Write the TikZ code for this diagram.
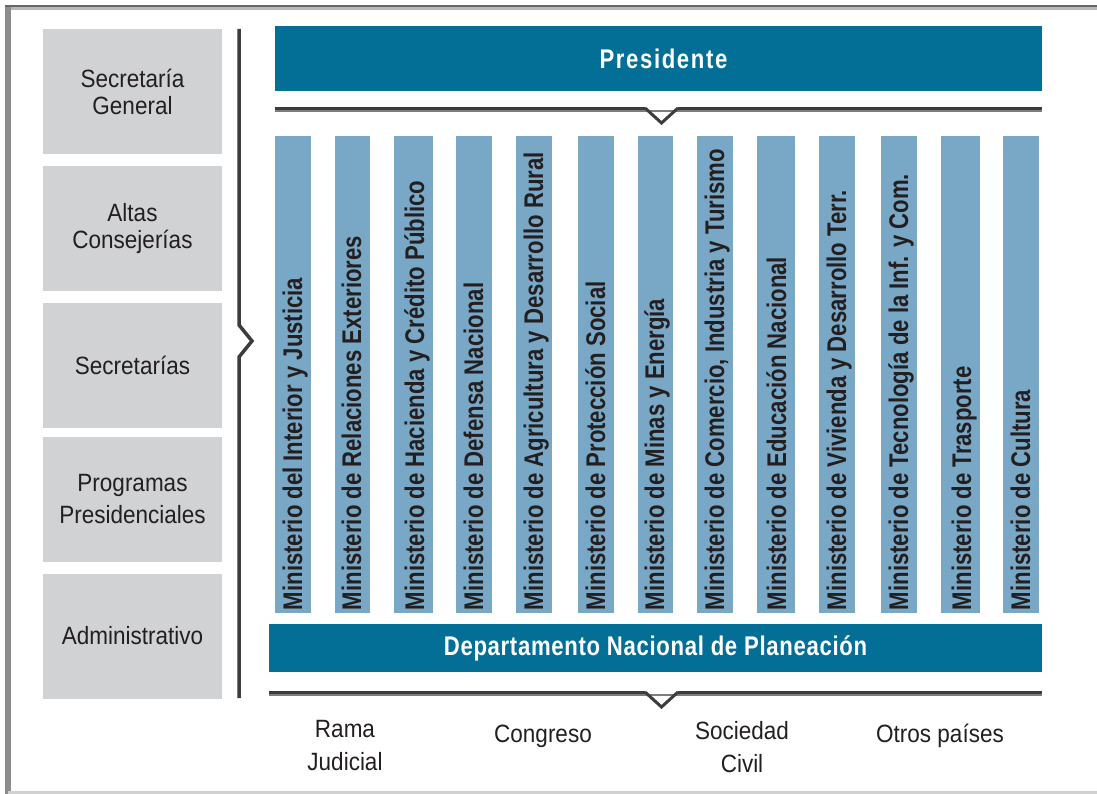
\documentclass[tikz,border=0pt]{standalone}
\usepackage{fontspec}
\usetikzlibrary{calc}
\newfontfamily\regf{Liberation Sans}[FakeStretch=0.9]
\newfontfamily\boldf{Liberation Sans}[FakeStretch=0.82]
\newfontfamily\presf{Liberation Sans}[FakeStretch=0.82,LetterSpace=6]
\newfontfamily\dnpf{Liberation Sans}[FakeStretch=0.82,LetterSpace=2.5]
\definecolor{presblue}{RGB}{3,111,151}
\definecolor{colblue}{RGB}{121,168,199}
\definecolor{boxgrey}{RGB}{209,210,212}
\definecolor{textdark}{RGB}{35,31,32}
\definecolor{linedark}{RGB}{60,60,60}
\definecolor{linegrey}{RGB}{125,125,125}
\tikzset{
  leftbox/.style={fill=boxgrey, draw=none, minimum width=179pt, minimum height=125pt, inner sep=0pt,
    align=center, text=textdark, font=\regf\fontsize{25}{27}\selectfont},
  colbox/.style={fill=colblue, draw=none, minimum height=477pt, inner sep=0pt},
  coltext/.style={rotate=90, anchor=base west, inner sep=0pt, text=textdark,
    font=\boldf\bfseries\fontsize{27}{27}\selectfont},
  bluebar/.style={fill=presblue, draw=none, inner sep=0pt, text=white},
  bartext/.style={inner sep=0pt, text=white},
  hlinetop/.style={line width=2.5pt, draw=linedark},
  hlinebot/.style={line width=2.5pt, draw=linegrey},
  chev/.style={line width=3pt, draw=linedark, line join=miter},
  bottomtext/.style={align=center, text=textdark, inner sep=0pt, font=\regf\fontsize{25}{33}\selectfont}
}
\begin{document}
\begin{tikzpicture}[x=1pt,y=-1pt]
\useasboundingbox (0,0) rectangle (1097,794);
% frame
\fill[black!45] (5,5) rectangle (11,794);
\fill[black!60] (5,5) rectangle (1097,7.5);
\fill[black!28] (11,7.5) rectangle (1097,10);
\fill[black!18] (8,791) rectangle (1097,794);
% left boxes
\node[leftbox] (sg) at (132.5,91.5) {Secretaría\\General};
\node[leftbox] (ac) at (132.5,228.5) {Altas\\Consejerías};
\node[leftbox] (se) at (132.5,365.5) {Secretarías};
\node[leftbox] (pp) at (132.5,499.5) {Programas\\[5pt]Presidenciales};
\node[leftbox] (ad) at (132.5,636) {Administrativo};
% bracket
\coordinate (bt) at (239,29);
\coordinate (bb) at (239,698);
\draw[line width=3.5pt, draw=linedark, line join=miter] (bt) -- (239,325) -- (252,341) -- (239,357) -- (bb);
% presidente
\node[bluebar, minimum width=767pt, minimum height=65pt] (pres) at (658.5,58.5) {};
\node[bartext, font=\presf\bfseries\fontsize{27}{27}\selectfont] (prest) at ($(pres.center)+(5,0)$) {Presidente};
% top line with chevron
\coordinate (tl) at (275,108.5);
\coordinate (tr) at (1042,108.5);
\draw[hlinebot] (275,111) -- (1042,111);
\draw[hlinetop] (tl) -- (645,108.5);
\draw[hlinetop] (678,108.5) -- (tr);
\draw[chev] (645,108) -- (661.5,123) -- (678,108);
% ministries
\foreach \i/\l/\r/\t in {
  1/275/311/{Ministerio del Interior y Justicia},
  2/335/370/{Ministerio de Relaciones Exteriores},
  3/394/433/{Ministerio de Hacienda y Crédito Público},
  4/456/492/{Ministerio de Defensa Nacional},
  5/516/552/{Ministerio de Agricultura y Desarrollo Rural},
  6/578/614/{Ministerio de Protección Social},
  7/638/673/{Ministerio de Minas y Energía},
  8/697/733/{Ministerio de Comercio, Industria y Turismo},
  9/757/795/{Ministerio de Educación Nacional},
  10/819/855/{Ministerio de Vivienda y Desarrollo Terr.},
  11/881/917/{Ministerio de Tecnología de la Inf. y Com.},
  12/941/980/{Ministerio de Trasporte},
  13/1003/1039/{Ministerio de Cultura}}{
  \pgfmathsetmacro\w{\r-\l}
  \pgfmathsetmacro\cx{(\l+\r)/2}
  \node[colbox, minimum width=\w pt] (m\i) at (\cx,374.5) {};
  \node[coltext] (t\i) at ($(m\i.south east)+(-9,-3)$) {\t};
}
% DNP
\node[bluebar, minimum width=773pt, minimum height=48pt, font=\dnpf\bfseries\fontsize{27}{27}\selectfont] (dnp) at (655.5,648) {Departamento Nacional de Planeación};
% bottom line with chevron
\coordinate (bl) at (269,692.5);
\coordinate (br) at (1042,692.5);
\draw[hlinebot] (269,695) -- (1042,695);
\draw[hlinetop] (bl) -- (645,692.5);
\draw[hlinetop] (678,692.5) -- (br);
\draw[chev] (645,692) -- (661.5,707) -- (678,692);
% bottom labels
\node[bottomtext] (rj) at (345,746) {Rama\\Judicial};
\node[bottomtext] (co) at (543,736) {Congreso};
\node[bottomtext] (sc) at (742,747) {Sociedad\\Civil};
\node[bottomtext] (op) at (940,736) {Otros países};
\end{tikzpicture}
\end{document}
